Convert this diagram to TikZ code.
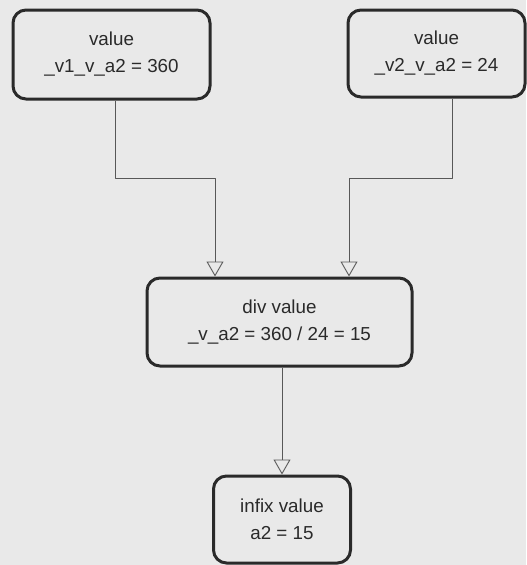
\documentclass[tikz,border=0pt]{standalone}
\usepackage{fontspec}
\setmainfont{Liberation Sans}
\usetikzlibrary{arrows.meta}

\definecolor{paper}{RGB}{233,233,233}
\definecolor{ink}{RGB}{42,42,42}
\definecolor{wire}{RGB}{88,88,88}

\begin{document}
\begin{tikzpicture}[x=1pt, y=-1pt, line join=round,
    valbox/.style={draw=ink, line width=3pt, rounded corners=13pt, inner sep=0pt,
      align=center, text=ink, font=\fontsize{18.8}{27}\selectfont},
    flow/.style={draw=wire, line width=0.9pt,
      -{Triangle[open,width=17pt,length=15pt]}}]
  % ── 底色 ──
  \fill[paper] (0,0) rectangle (526,565);

  % ── 四个框：中心 + 尺寸 ──
  \node[valbox, minimum width=197pt, minimum height=89pt] (v1) at (111.5,54.5) {value\\\_v1\_v\_a2 = 360};
  \node[valbox, minimum width=177pt, minimum height=87pt] (v2) at (436.5,53.5) {value\\\_v2\_v\_a2 = 24};
  \node[valbox, minimum width=265pt, minimum height=88pt] (div) at (279.5,322) {div value\\\_v\_a2 = 360 / 24 = 15};
  \node[valbox, minimum width=137pt, minimum height=87pt] (infix) at (282,519.5) {infix value\\a2 = 15};

  % ── 连线：先下、再横、再下 ──
  \draw[flow] ([xshift=3.5pt]v1.south) -- ++(0,78) -| ([xshift=-64.5pt]div.north);
  \draw[flow] ([xshift=15.5pt]v2.south) -- ++(0,80) -| ([xshift=69.5pt]div.north);
  \draw[flow] (infix.north |- div.south) -- (infix.north);

  \path[use as bounding box] (0,0) rectangle (526,565);
\end{tikzpicture}
\end{document}
